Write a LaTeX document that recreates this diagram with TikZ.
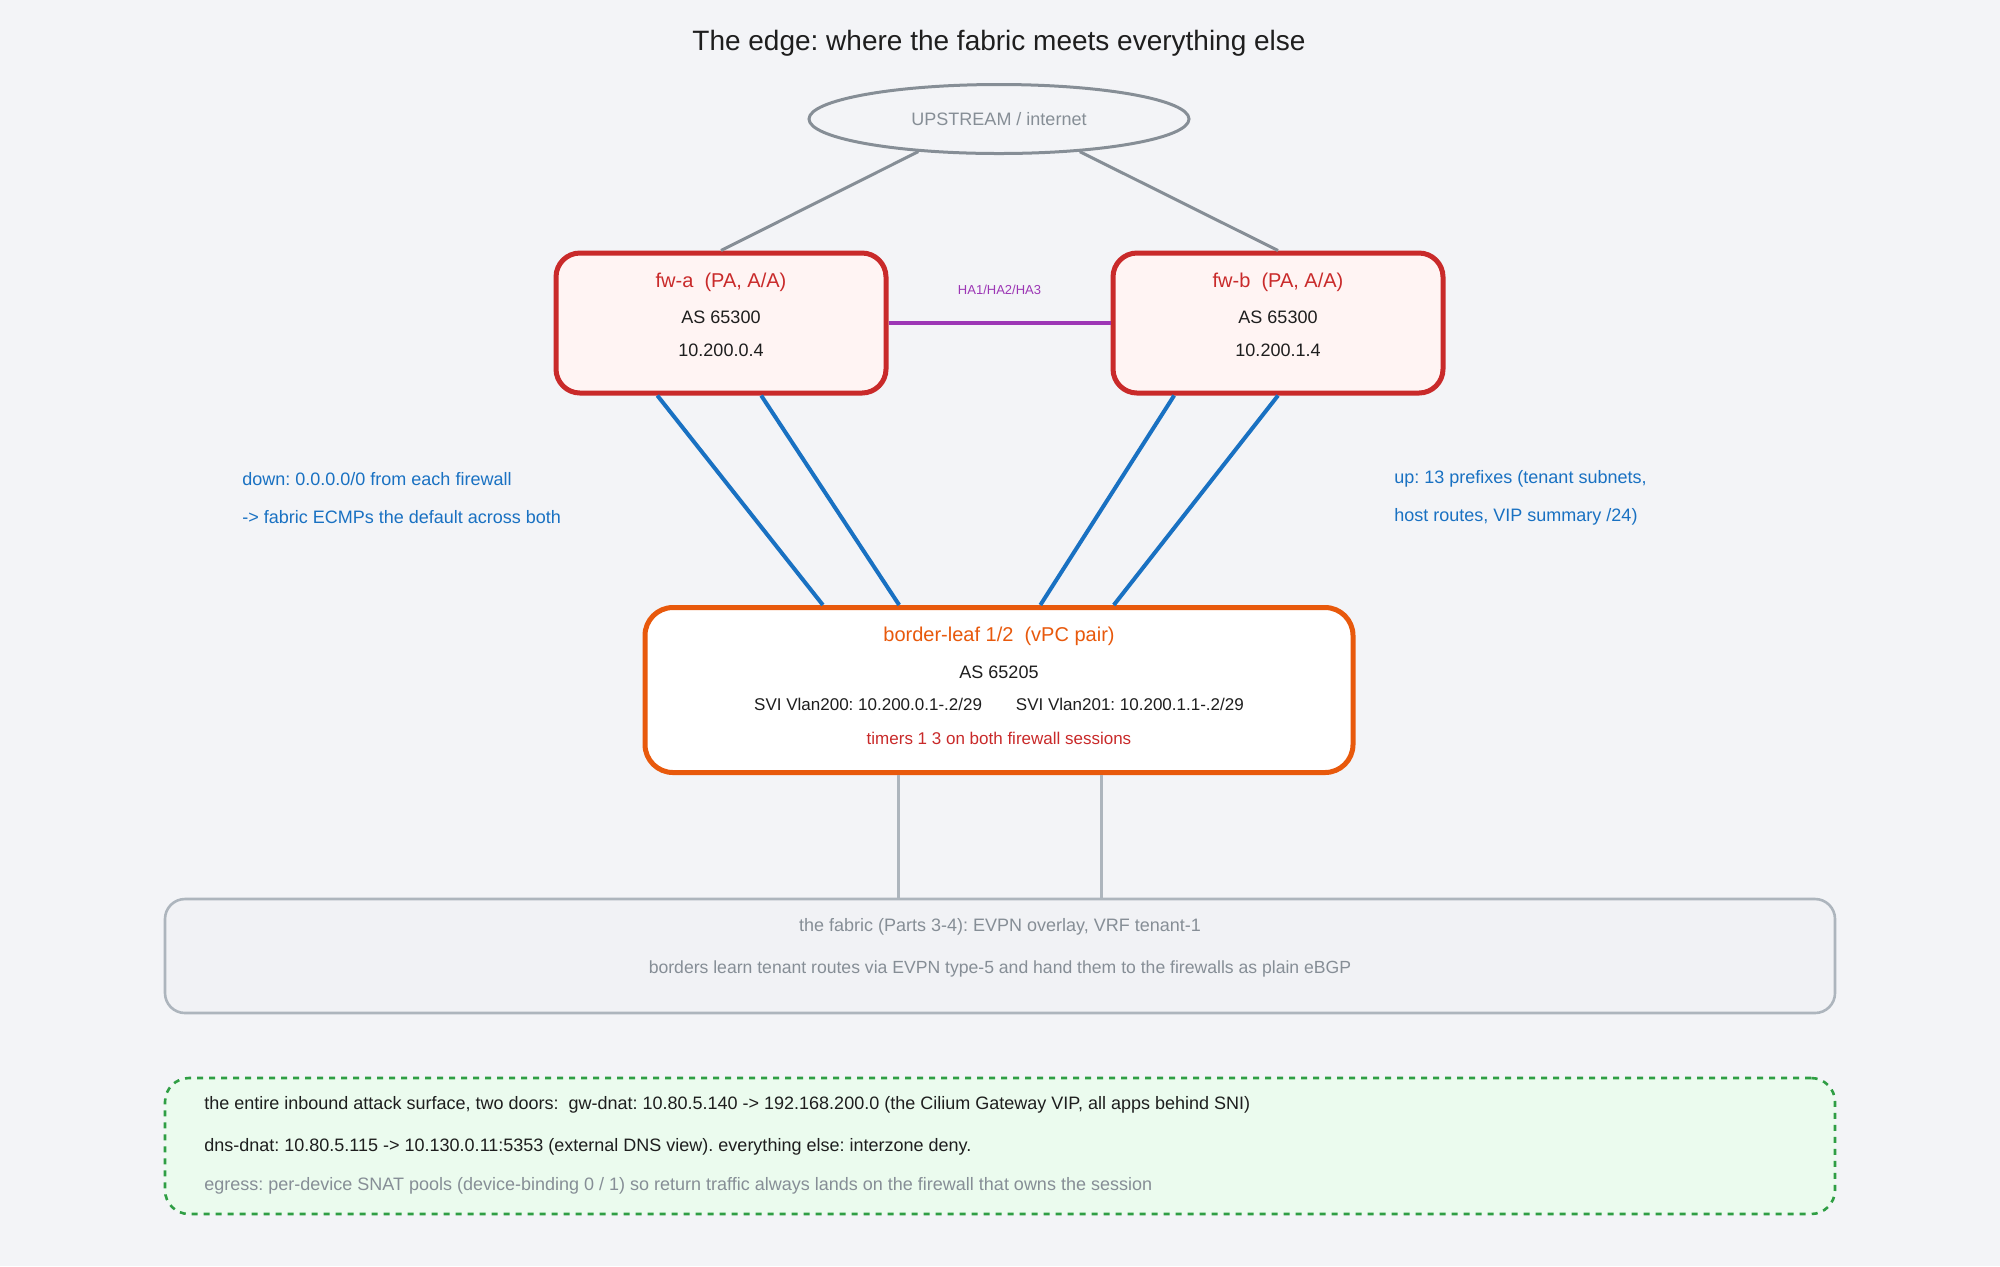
\documentclass[tikz,border=0pt]{standalone}
\usepackage{fontspec}
\setmainfont{Liberation Sans}
\usepackage{xcolor}
\usetikzlibrary{calc,shapes.geometric,positioning}
\definecolor{bgcol}{HTML}{F3F4F7}
\definecolor{inkcol}{HTML}{1E1E1E}
\definecolor{fwred}{HTML}{C92A2A}
\definecolor{fwfill}{HTML}{FFF4F3}
\definecolor{leaforange}{HTML}{E8590C}
\definecolor{linkblue}{HTML}{1971C2}
\definecolor{hapurple}{HTML}{9C36B5}
\definecolor{upgray}{HTML}{868E96}
\definecolor{fabgray}{HTML}{ADB5BD}
\definecolor{fabfill}{HTML}{F1F2F5}
\definecolor{notegreen}{HTML}{2F9E44}
\definecolor{notefill}{HTML}{EBFBEE}
\frenchspacing

\begin{document}
\begin{tikzpicture}[
    x=0.5pt, y=-0.5pt,
    every node/.style={font=\fontsize{9}{11}\selectfont, text=inkcol, inner sep=1pt},
    fwbox/.style={draw=fwred, line width=2.5pt, rounded corners=12pt, fill=fwfill, minimum width=165pt, minimum height=70pt},
    leafbox/.style={draw=leaforange, line width=2.5pt, rounded corners=14pt, fill=white, minimum width=354pt, minimum height=82.5pt},
    fabbox/.style={draw=fabgray, line width=1.3pt, rounded corners=10pt, fill=fabfill, minimum width=835pt, minimum height=57pt},
    notebox/.style={draw=notegreen, dashed, line width=1.3pt, rounded corners=12pt, fill=notefill, minimum width=835pt, minimum height=68pt},
    cloudnode/.style={ellipse, draw=upgray, line width=1.5pt, minimum width=190pt, minimum height=34.5pt, text=upgray, font=\fontsize{9}{11}\selectfont},
    boxttl/.style={font=\fontsize{10}{12}\selectfont},
    anno/.style={anchor=west, text=linkblue, font=\fontsize{9}{11}\selectfont},
    uplink/.style={draw=upgray, line width=1.5pt},
    bgplink/.style={draw=linkblue, line width=2pt},
    halink/.style={draw=hapurple, line width=2pt},
    fablink/.style={draw=fabgray, line width=1.3pt}
  ]
  \path[fill=bgcol, use as bounding box] (0,0) rectangle (2000,1266);

  % Title
  \node[font=\fontsize{14}{16}\selectfont] (title) at (999,43) {The edge: where the fabric meets everything else};

  % Upstream
  \node[cloudnode] (upstream) at (999,119) {UPSTREAM / internet};

  % Firewall pair
  \node[fwbox] (fwa) at (721,323) {};
  \node[boxttl, text=fwred] (fwattl) at ($(fwa.north)+(0,32)$) {fw-a\ \ (PA, A/A)};
  \node (fwaas) at ($(fwa.north)+(0,67)$) {AS 65300};
  \node (fwaip) at ($(fwa.north)+(0,100)$) {10.200.0.4};

  \node[fwbox] (fwb) at (1278,323) {};
  \node[boxttl, text=fwred] (fwbttl) at ($(fwb.north)+(0,32)$) {fw-b\ \ (PA, A/A)};
  \node (fwbas) at ($(fwb.north)+(0,67)$) {AS 65300};
  \node (fwbip) at ($(fwb.north)+(0,100)$) {10.200.1.4};

  \draw[uplink] (upstream.202) -- (fwa.north);
  \draw[uplink] (upstream.338) -- (fwb.north);
  \draw[halink] (fwa.east) -- node[midway, above=12pt, text=hapurple, font=\fontsize{6.5}{8}\selectfont] (halbl) {HA1/HA2/HA3} (fwb.west);

  % Border leaves
  \node[leafbox] (leaf) at (999,690) {};
  \node[boxttl, text=leaforange] (leafttl) at ($(leaf.north)+(0,31)$) {border-leaf 1/2\ \ (vPC pair)};
  \node (leafas) at ($(leaf.north)+(0,67)$) {AS 65205};
  \node[font=\fontsize{8.5}{10}\selectfont] (leafsvi) at ($(leaf.north)+(0,99)$) {SVI Vlan200: 10.200.0.1-.2/29\hspace{2em}SVI Vlan201: 10.200.1.1-.2/29};
  \node[text=fwred, font=\fontsize{8.5}{10}\selectfont] (leaftmr) at ($(leaf.north)+(0,133)$) {timers 1 3 on both firewall sessions};

  % eBGP sessions, two per firewall
  \draw[bgplink] ($(fwa.south west)!0.31!(fwa.south east)$) -- ($(leaf.north west)!0.253!(leaf.north east)$);
  \draw[bgplink] ($(fwa.south west)!0.62!(fwa.south east)$) -- ($(leaf.north west)!0.36!(leaf.north east)$);
  \draw[bgplink] ($(fwb.south west)!0.19!(fwb.south east)$) -- ($(leaf.north west)!0.558!(leaf.north east)$);
  \draw[bgplink] ($(fwb.south west)!0.5!(fwb.south east)$) -- ($(leaf.north west)!0.661!(leaf.north east)$);

  \node[anno] (downa) at (240,479) {down: 0.0.0.0/0 from each firewall};
  \node[anno] (downb) at (240,517) {-> fabric ECMPs the default across both};
  \node[anno] (upa) at (1392,479) {up: 13 prefixes (tenant subnets,};
  \node[anno] (upb) at (1392,517) {host routes, VIP summary /24)};

  % Fabric
  \node[fabbox] (fabric) at (1000,956) {};
  \node[text=upgray] (fabttl) at ($(fabric.north)+(0,29)$) {the fabric (Parts 3-4): EVPN overlay, VRF tenant-1};
  \node[text=upgray, font=\fontsize{8.8}{10}\selectfont] (fabsub) at ($(fabric.north)+(0,71)$) {borders learn tenant routes via EVPN type-5 and hand them to the firewalls as plain eBGP};

  \coordinate (lla) at ($(leaf.south west)!0.359!(leaf.south east)$);
  \coordinate (llb) at ($(leaf.south west)!0.644!(leaf.south east)$);
  \draw[fablink] (lla) -- (lla |- fabric.north);
  \draw[fablink] (llb) -- (llb |- fabric.north);

  % Attack surface note
  \node[notebox] (note) at (1000,1146) {};
  \node[anchor=west] (notea) at (202,1105) {the entire inbound attack surface, two doors:\ \ gw-dnat: 10.80.5.140 -> 192.168.200.0 (the Cilium Gateway VIP, all apps behind SNI)};
  \node[anchor=west] (noteb) at (202,1147) {dns-dnat: 10.80.5.115 -> 10.130.0.11:5353 (external DNS view). everything else: interzone deny.};
  \node[anchor=west, text=upgray] (notec) at (202,1186) {egress: per-device SNAT pools (device-binding 0 / 1) so return traffic always lands on the firewall that owns the session};
\end{tikzpicture}
\end{document}
